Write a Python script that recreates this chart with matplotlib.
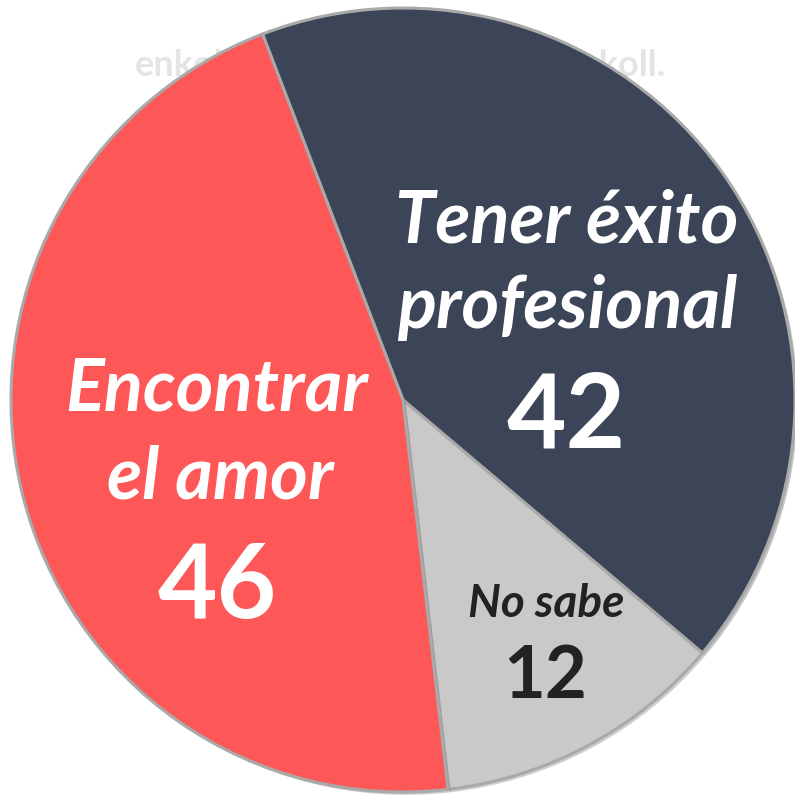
import matplotlib
matplotlib.use("Agg")
import matplotlib.pyplot as plt
from matplotlib import patheffects as pe

categories = ["Tener éxito profesional", "No sabe", "Encontrar el amor"]
values = [42, 12, 46]
colors = ["#3b4557", "#c9c9c9", "#fd5757"]

W = H = 795
cx, cy, R = 403, 400, 392

fig = plt.figure(figsize=(7.95, 7.95), dpi=100)
ax = fig.add_axes([0, 0, 1, 1])

def px(x, y):
    return ((x - cx) / R, (cy - y) / R)

wedges, _ = ax.pie(values, colors=colors, startangle=111, counterclock=False,
                   radius=1.0, center=(0, 0),
                   wedgeprops=dict(edgecolor="#a9a9a9", linewidth=2.2, zorder=2))
for w in wedges:
    w.set_path_effects([pe.SimplePatchShadow(offset=(2, -2), alpha=0.25), pe.Normal()])

ax.set_xlim(-cx / R, (W - cx) / R)
ax.set_ylim(-(H - cy) / R, cy / R)
ax.set_aspect("equal")
ax.axis("off")

# faint watermarks (mostly hidden behind the pie)
wm_kw = dict(color="#e4e4e4", fontsize=26, fontweight="bold", family="Lato",
             ha="left", va="center", zorder=0)
for (x, y) in [(135, 66), (560, 66)]:
    ax.text(*px(x, y), "enkoll.", **wm_kw)

font = "Lato"
white_kw = dict(color="white", family=font, fontweight="bold", fontstyle="italic",
                ha="center", va="center", zorder=5)
ax.text(*px(567, 222), "Tener éxito", fontsize=52, **white_kw)
ax.text(*px(567, 308), "profesional", fontsize=52, **white_kw)
ax.text(*px(566, 418), "42", fontsize=74, color="white", family=font,
        fontweight="bold", ha="center", va="center", zorder=5)

ax.text(*px(217, 390), "Encontrar", fontsize=52, **white_kw)
ax.text(*px(220, 478), "el amor", fontsize=52, **white_kw)
ax.text(*px(217, 588), "46", fontsize=74, color="white", family=font,
        fontweight="bold", ha="center", va="center", zorder=5)

ax.text(*px(546, 604), "No sabe", fontsize=33, color="#222222", family=font,
        fontweight="bold", fontstyle="italic", ha="center", va="center", zorder=5)
ax.text(*px(545, 678), "12", fontsize=52, color="#222222", family=font,
        fontweight="bold", ha="center", va="center", zorder=5)

fig.savefig("out.png", dpi=100, facecolor="white")
